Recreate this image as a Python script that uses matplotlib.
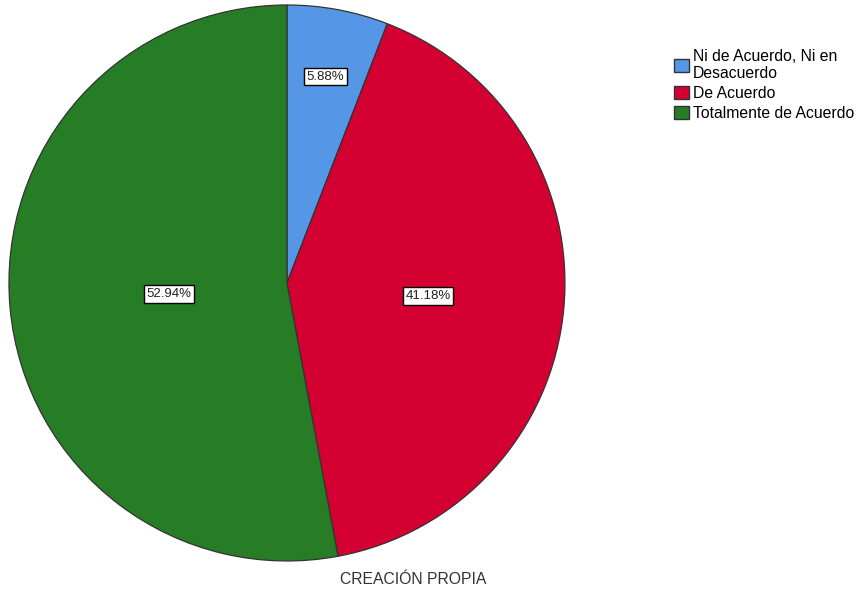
import matplotlib
matplotlib.use("Agg")
import matplotlib.pyplot as plt
import numpy as np
from matplotlib.patches import Patch

plt.rcParams['font.family'] = ['Liberation Sans', 'DejaVu Sans']

categories = ["Ni de Acuerdo, Ni en\nDesacuerdo", "De Acuerdo", "Totalmente de Acuerdo"]
values = [5.88, 41.18, 52.94]
labels = ["5.88%", "41.18%", "52.94%"]
colors = ["#5597E6", "#D50032", "#267D26"]
label_radius = [0.755, 0.51, 0.425]

fig = plt.figure(figsize=(8.62, 5.93), dpi=100)
ax = fig.add_axes([0.0104, 0.054, 0.645, 0.9376])
wedges, _ = ax.pie(values, colors=colors, startangle=90, counterclock=False,
                   wedgeprops=dict(edgecolor="#333333", linewidth=0.9))
ax.set_xlim(-1, 1)
ax.set_ylim(-1, 1)
ax.set_aspect("equal")
for w, lab, r in zip(wedges, labels, label_radius):
    ang = np.deg2rad((w.theta1 + w.theta2) / 2)
    ax.text(r * np.cos(ang), r * np.sin(ang), lab, ha="center", va="center",
            fontsize=9.5, color="#222222",
            bbox=dict(boxstyle="square,pad=0.2", facecolor="white", edgecolor="black", linewidth=1.0))

handles = [Patch(facecolor=c, edgecolor="#333333", linewidth=1.0) for c in colors]
fig.legend(handles, categories, loc="upper left", bbox_to_anchor=(0.782, 0.918),
           frameon=False, fontsize=11.3, handlelength=0.95, handleheight=0.95,
           handletextpad=0.25, labelspacing=0.3, borderaxespad=0, borderpad=0)
fig.text(0.479, 0.022, "CREACIÓN PROPIA", ha="center", va="center", fontsize=11.3, color="#333333")
fig.savefig("out.png", dpi=100, facecolor="white")
